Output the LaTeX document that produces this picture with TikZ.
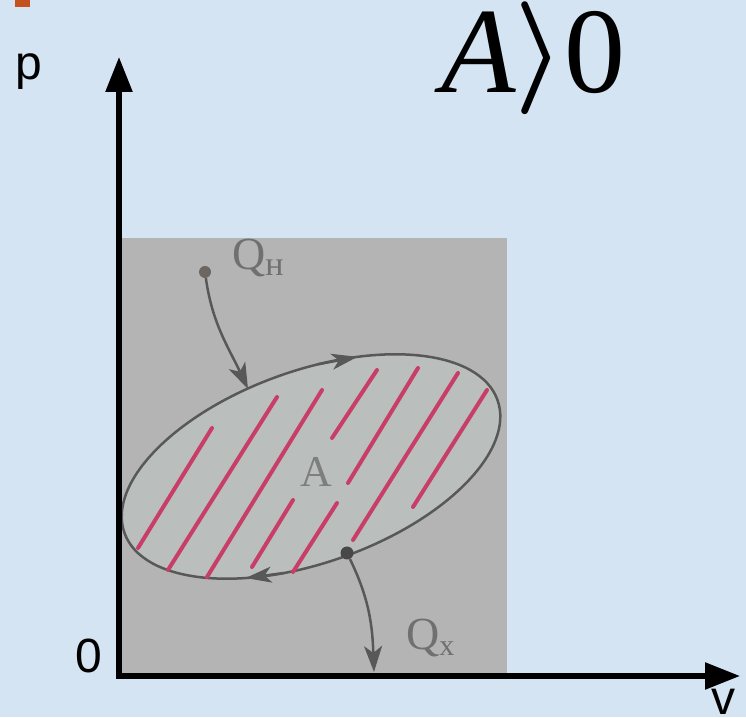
\RequirePackage{fix-cm}
\documentclass[tikz,border=0pt]{standalone}
\usepackage{fontspec}
\setmainfont{Liberation Serif}
\newfontfamily\sansf{Liberation Sans}
\usetikzlibrary{arrows.meta}
\definecolor{bgblue}{RGB}{213,228,242}
\definecolor{panelgray}{RGB}{180,180,180}
\definecolor{innergray}{RGB}{186,191,189}
\definecolor{curvegray}{RGB}{88,88,88}
\definecolor{labelgray}{RGB}{112,112,112}
\definecolor{hatchred}{RGB}{200,62,104}
\definecolor{rust}{RGB}{196,82,30}
\newcommand{\boldbracket}{\mbox{\boldmath$\rangle$}}
\tikzset{
  axisline/.style={line width=5.5pt, -{Triangle[length=35pt,width=26pt]}},
  cycleline/.style={draw=curvegray, line width=2.5pt, fill=innergray},
  cyclearrow/.style={draw=curvegray, line width=2.5pt, -{Stealth[length=26pt,width=16pt,inset=7pt]}},
  heatarrow/.style={draw=curvegray, line width=2.5pt, -{Stealth[length=26pt,width=18pt,inset=7pt]}},
  hatch/.style={draw=hatchred, line width=4pt, line cap=round},
  dotnode/.style={circle, inner sep=0pt, minimum size=12pt},
  sanslabel/.style={font=\sansf\fontsize{48}{50}\selectfont, inner sep=0pt, anchor=base west},
  graylabel/.style={text=labelgray, inner sep=0pt, anchor=base west},
  titletext/.style={inner sep=0pt, anchor=base west, font=\fontsize{122}{122}\selectfont},
}
\begin{document}
\begin{tikzpicture}[x=1pt,y=1pt]
\useasboundingbox (0,0) rectangle (746,717);
\fill[bgblue] (0,0) rectangle (746,717);
\fill[rust] (15,710) rectangle (30,717);
% gray panel
\fill[panelgray] (122,41) rectangle (507,479);
% cycle
\begin{scope}[shift={(311,250.5)},rotate=19.6]
  \draw[cycleline] (0,0) ellipse [x radius=198pt, y radius=96pt];
\end{scope}
% hatching
\draw[hatch] (138,169) -- (212,289);
\draw[hatch] (168,147) -- (277,320);
\draw[hatch] (207,140) -- (322,327);
\draw[hatch] (252,150) -- (293,217);
\draw[hatch] (293,145) -- (337,214);
\draw[hatch] (332,279) -- (377,347);
\draw[hatch] (348,234) -- (418,349);
\draw[hatch] (353,177) -- (458,344);
\draw[hatch] (413,210) -- (487,327);
% arrows on the cycle
\begin{scope}[shift={(311,250.5)},rotate=19.6]
  \coordinate (ta) at ({198*cos(78)},{96*sin(78)});
  \coordinate (tb) at ({198*cos(66)},{96*sin(66)});
  \coordinate (ba) at ({198*cos(252)},{96*sin(252)});
  \coordinate (bb) at ({198*cos(240)},{96*sin(240)});
\end{scope}
\draw[cyclearrow] (ta) -- (tb);
\draw[cyclearrow] (ba) -- (bb);
% area label
\node[graylabel, text=labelgray!90, font=\fontsize{44}{44}\selectfont] (alabel) at (300,230) {A};
% heat input
\node[dotnode, fill={rgb,255:red,108;green,102;blue,96}] (qh) at (205,445) {};
\coordinate (qhend) at (248,328);
\draw[heatarrow] (qh) to[out=-82,in=115] (qhend);
\node[graylabel, font=\fontsize{46}{46}\selectfont] (qhlabel) at (232,447) {Q{\fontsize{34}{34}\selectfont\raisebox{-6pt}{н}}};
% heat output
\node[dotnode, fill={rgb,255:red,72;green,72;blue,72}, minimum size=13pt] (qx) at (347,164) {};
\coordinate (qxend) at (374,45);
\draw[heatarrow] (qx) to[out=-64,in=92] (qxend);
\node[graylabel, font=\fontsize{46}{46}\selectfont] (qxlabel) at (406,68) {Q{\fontsize{30}{30}\selectfont\raisebox{-6pt}{х}}};
% axes
\coordinate (O) at (119,41);
\coordinate (xstart) at (116.5,41);
\coordinate (ystart) at (119,38.5);
\coordinate (xend) at (740,41);
\coordinate (yend) at (119,660);
\draw[axisline] (xstart) -- (xend);
\draw[axisline] (ystart) -- (yend);
\node[sanslabel] (plabel) at (15,637) {p};
\node[sanslabel] (zlabel) at (75,45) {0};
\node[sanslabel] (vlabel) at (711,3) {v};
% title
\node[titletext] (tA) at (441,624) {\itshape A};
\node[titletext, font=\fontsize{113}{113}\selectfont] (tbr) at (514,630) {\boldbracket};
\node[titletext] (t0) at (564,624) {0};
\end{tikzpicture}
\end{document}
